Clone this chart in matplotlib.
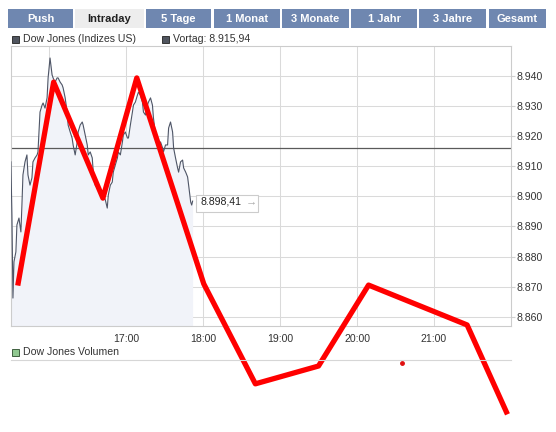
# -*- coding: utf-8 -*-
"""
Dow Jones intraday chart (finance portal style) with a red freehand overlay
"""

# Import Libraries -----------------------------------------------------------
import matplotlib.pyplot as plt
import matplotlib.patches as mpatches

plt.rcParams['font.family'] = ['Liberation Sans', 'DejaVu Sans']

# Data ------------------------------------------------------------------------
# intraday index level, minutes after 15:30
minutes = [0.3, 1.1, 1.9, 2.7, 4.2, 5.0, 6.6, 8.1, 8.9, 9.7,
           11.3, 12.8, 13.6, 15.2, 16.7, 17.5, 19.1, 20.7, 21.4, 23.0,
           24.6, 25.4, 26.9, 28.5, 29.3, 30.8, 32.4, 33.2, 34.7, 36.3,
           37.1, 38.7, 40.2, 41.0, 42.6, 44.1, 44.9, 46.5, 48.0, 48.8,
           50.4, 52.0, 52.7, 54.3, 55.9, 56.6, 58.2, 59.8, 60.6, 62.1,
           63.7, 64.5, 66.0, 67.6, 68.4, 69.9, 71.5, 72.3, 73.9, 75.4,
           76.2, 77.8, 79.3, 80.1, 81.7, 83.3, 84.0, 85.6, 87.2, 87.9,
           89.5, 91.1, 91.9, 93.4, 95.0, 95.8, 97.3, 98.9, 99.7, 101.2,
           102.8, 103.6, 105.2, 106.7, 107.5, 109.1, 110.6, 111.4, 113.0, 114.5,
           115.3, 116.9, 118.5, 119.2, 120.8, 122.4, 123.2, 124.7, 126.3, 127.1,
           128.6, 130.2, 131.0, 132.5, 134.1, 134.9, 136.5, 138.0, 138.8, 140.4,
           141.2, 141.9]
levels = [8911.4, 8893.8, 8866.3, 8878.3, 8881.6, 8890.5, 8892.8, 8888.2, 8897.1, 8907.1,
          8911.4, 8913.7, 8907.1, 8903.7, 8906.1, 8911.4, 8912.7, 8913.7, 8914.7, 8927.9,
          8930.2, 8930.9, 8929.2, 8932.6, 8939.2, 8945.8, 8940.2, 8939.2, 8937.8, 8939.2,
          8939.2, 8937.8, 8936.9, 8935.9, 8932.6, 8927.9, 8923.6, 8921.3, 8919.3, 8917.0,
          8913.7, 8918.0, 8921.3, 8923.6, 8924.6, 8923.6, 8920.3, 8917.0, 8913.7, 8914.7,
          8912.7, 8908.0, 8903.7, 8902.8, 8903.7, 8902.1, 8901.4, 8900.4, 8898.8, 8896.1,
          8900.4, 8903.7, 8904.7, 8908.0, 8910.4, 8912.7, 8914.7, 8913.7, 8918.0, 8920.3,
          8921.3, 8919.3, 8919.3, 8923.6, 8927.9, 8930.2, 8931.2, 8933.5, 8934.5, 8933.5,
          8931.2, 8927.9, 8926.9, 8930.2, 8931.2, 8932.6, 8930.2, 8925.9, 8920.3, 8917.0,
          8916.0, 8918.0, 8916.0, 8914.7, 8917.0, 8917.0, 8922.6, 8924.6, 8921.3, 8916.0,
          8912.7, 8909.4, 8908.0, 8911.4, 8912.0, 8909.4, 8908.0, 8906.4, 8903.7, 8898.1,
          8897.1, 8898.4]
prev_close = 8915.94
last_value = 8898.41

# red freehand line drawn over the chart (hour of day, level)
red_hours = [15.60, 16.06, 16.70, 17.14, 18.01, 18.68, 19.50, 20.15, 21.43, 21.94]
red_levels = [8871.3, 8937.8, 8899.4, 8939.2, 8871.0, 8837.9, 8843.8, 8870.6, 8857.4, 8828.6]
dot_hour, dot_level = 20.58, 8844.8

tab_names = ['Push', 'Intraday', '5 Tage', '1 Monat', '3 Monate', '1 Jahr', '3 Jahre', 'Gesamt']
tab_spans = [(8, 73), (75, 144), (146, 211), (214, 280), (282, 349), (351, 417), (419, 486), (489, 546)]
active_tab = 'Intraday'

y_ticks = [8860, 8870, 8880, 8890, 8900, 8910, 8920, 8930, 8940]
x_ticks = [16, 17, 18, 19, 20, 21]
x_labels = ['', '17:00', '18:00', '19:00', '20:00', '21:00']


def de_num(v, dec):
    """German number format: 8.915,94"""
    s = f'{v:,.{dec}f}'
    return s.replace(',', 'X').replace('.', ',').replace('X', '.')


# Build Plot ------------------------------------------------------------------
W, H = 556, 432
fig = plt.figure(figsize=(W / 100, H / 100), dpi=100)
fig.patch.set_facecolor('white')


def fx(px):
    return px / W


def fy(py):
    return 1 - py / H


# tab bar
for name, (x0, x1) in zip(tab_names, tab_spans):
    active = name == active_tab
    fig.patches.append(mpatches.Rectangle(
        (fx(x0), fy(28)), fx(x1 - x0), 19 / H, transform=fig.transFigure,
        facecolor='#EDEDED' if active else '#6F87B0', edgecolor='none'))
    fig.text(fx((x0 + x1) / 2), fy(18.5), name, ha='center', va='center',
             fontsize=8, fontweight='bold', color='#222222' if active else 'white')

# legend row
for sx, label, col in [(12, 'Dow Jones (Indizes US)', '#50555F'),
                       (162, 'Vortag: ' + de_num(prev_close, 2), '#50555F')]:
    fig.patches.append(mpatches.Rectangle(
        (fx(sx), fy(43)), 7 / W, 7 / H, transform=fig.transFigure,
        facecolor=col, edgecolor='#222222', lw=0.6))
    fig.text(fx(sx + 11), fy(39.5), label, ha='left', va='center',
             fontsize=7.6, color='#333333')

# main chart
ax = fig.add_axes([fx(10.5), fy(326), fx(500.5), 280 / H])
t_hours = [15.5 + m / 60 for m in minutes]
y_lo, y_hi = 8857.05, 8949.77
ax.fill_between(t_hours, levels, y_lo, color='#F1F3F9', lw=0, zorder=1)
ax.plot(t_hours, levels, color='#4E5566', lw=0.8, zorder=3)
ax.axhline(prev_close, color='#5A5A5A', lw=0.9, zorder=2)

ax.set_xlim(15.5, 22.0)
ax.set_ylim(y_lo, y_hi)
ax.set_xticks(x_ticks)
ax.set_xticklabels(x_labels)
ax.set_yticks(y_ticks)
ax.set_yticklabels([f'{v / 1000:.3f}' for v in y_ticks])
ax.yaxis.tick_right()
ax.grid(True, color='#DADADA', lw=0.75, zorder=0)
ax.set_axisbelow(True)
ax.tick_params(axis='y', length=3, color='#D0D0D0', pad=1, labelsize=7.6, labelcolor='#333333')
ax.tick_params(axis='x', length=0, pad=6, labelsize=7.6, labelcolor='#333333')
for sp in ax.spines.values():
    sp.set_color('#CCCCCC')
    sp.set_linewidth(0.8)

# last price box
ax.add_artist(mpatches.Rectangle(
    (fx(196), fy(212)), 62 / W, 17 / H, transform=fig.transFigure,
    facecolor='white', edgecolor='#CCCCCC', lw=0.8, zorder=6, clip_on=False))
ax.text(15.5 + 189.5 / 77.0, last_value, de_num(last_value, 2),
        ha='left', va='center', fontsize=7.6, color='#222222', zorder=7)
ax.text(15.5 + 235 / 77.0, last_value, '→', ha='left', va='center',
        fontsize=8, fontweight='bold', color='#AAAAAA', zorder=7)

# volume section header
fig.patches.append(mpatches.Rectangle(
    (fx(12), fy(356)), 7 / W, 7 / H, transform=fig.transFigure,
    facecolor='#90C890', edgecolor='#2A4A2A', lw=0.6))
fig.text(fx(23), fy(352), 'Dow Jones Volumen', ha='left', va='center',
         fontsize=7.6, color='#333333')
fig.add_artist(plt.Line2D([fx(10.5), fx(511)], [fy(359.5), fy(359.5)],
                          transform=fig.transFigure, color='#D6D6D6', lw=0.8))

# red freehand overlay
ax.plot(red_hours, red_levels, color='#FF0000', lw=3.8, clip_on=False, zorder=10)
ax.plot([dot_hour], [dot_level], 'o', ms=2.5, color='#E01010', clip_on=False, zorder=10)

plt.savefig('out.png', dpi=100)
